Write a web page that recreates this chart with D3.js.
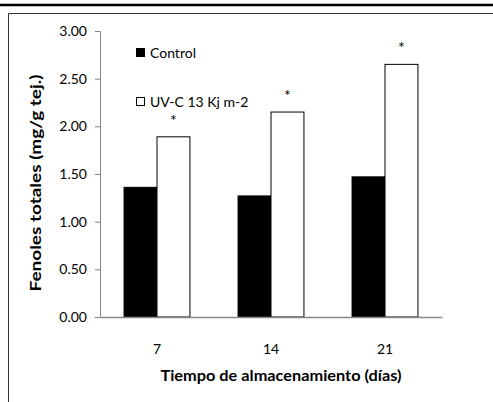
<!DOCTYPE html>
<meta charset="utf-8">
<script src="https://d3js.org/d3.v7.min.js"></script>
<style>
  body { margin: 0; background: #fff; }
  text { font-family: Lato, "Open Sans", sans-serif; fill: #000; }
</style>
<div id="my_dataviz"></div>
<script>

// data
var dias = ["7", "14", "21"];
var series = ["Control", "UV-C 13 Kj m-2"];
var control = [1.36, 1.27, 1.47];
var uvc = [1.89, 2.15, 2.65];
var significant = [true, true, true];   // the asterisks over UV-C bars
var yTicks = [0, 0.5, 1, 1.5, 2, 2.5, 3];

var W = 493, H = 402;
var margin = {top: 31, left: 100, bottom: 85, right: 51};

var svg = d3.select("#my_dataviz")
  .append("svg")
    .attr("width", W)
    .attr("height", H);

// thick rule on top and the frame of the figure
svg.append("line")
  .attr("x1", 0).attr("x2", W)
  .attr("y1", 5).attr("y2", 5)
  .attr("stroke", "#000")
  .attr("stroke-width", 2.5);

svg.append("path")
  .attr("d", "M8.5," + H + "V13.5H" + (W + 2))
  .attr("fill", "none")
  .attr("stroke", "#333")
  .attr("stroke-width", 1);

// scales
var x0 = d3.scaleBand()
  .domain(dias)
  .range([margin.left, W - margin.right])
  .padding(0);

var x1 = d3.scaleBand()
  .domain(series)
  .range([0, x0.bandwidth()])
  .paddingInner(0)
  .paddingOuter(0.73);

var y = d3.scaleLinear()
  .domain([0, 3])
  .range([H - margin.bottom, margin.top]);

var color = d3.scaleOrdinal()
  .domain(series)
  .range(["#000", "#fff"]);

// rows for the bars
var rows = dias.map(function(d, i) {
  return {dia: d, values: [
    {key: series[0], value: control[i]},
    {key: series[1], value: uvc[i]}
  ], sig: significant[i]};
});

// y axis
var yAxis = svg.append("g")
  .attr("transform", "translate(" + margin.left + ",0)")
  .call(d3.axisLeft(y).tickValues(yTicks).tickFormat(d3.format(".2f")).tickSize(5).tickPadding(8));
yAxis.select(".domain").attr("stroke", "#868686");
yAxis.selectAll(".tick line").attr("stroke", "#868686");
yAxis.selectAll("text")
  .style("font-family", "Lato, sans-serif")
  .style("font-size", "14px")
  .attr("fill", "#000");

// bars
var groups = svg.append("g").selectAll("g")
  .data(rows)
  .enter()
  .append("g")
    .attr("transform", function(d) { return "translate(" + x0(d.dia) + ",0)"; });

groups.selectAll("rect")
  .data(function(d) { return d.values; })
  .enter()
  .append("rect")
    .attr("x", function(d) { return x1(d.key); })
    .attr("y", function(d) { return y(d.value); })
    .attr("width", x1.bandwidth())
    .attr("height", function(d) { return y(0) - y(d.value); })
    .attr("fill", function(d) { return color(d.key); })
    .attr("stroke", "#000")
    .attr("stroke-width", 1);

// asterisks
groups.filter(function(d) { return d.sig; })
  .append("text")
    .attr("x", x1(series[1]) + x1.bandwidth() / 2)
    .attr("y", function(d) { return y(d.values[1].value) - 11; })
    .attr("text-anchor", "middle")
    .style("font-size", "16px")
    .text("*");

// x axis (line only, labels below)
var xAxis = svg.append("g")
  .attr("transform", "translate(0," + y(0) + ")")
  .call(d3.axisBottom(x0).tickSize(0).tickPadding(27));
xAxis.select(".domain").attr("stroke", "#868686").attr("stroke-width", 1.5);
xAxis.selectAll("text")
  .style("font-family", "Lato, sans-serif")
  .style("font-size", "14px")
  .attr("fill", "#000");

// axis titles
svg.append("text")
  .attr("x", 281)
  .attr("y", 381)
  .attr("text-anchor", "middle")
  .style("font-size", "15px")
  .style("font-weight", "bold")
  .attr("textLength", 241)
  .attr("lengthAdjust", "spacingAndGlyphs")
  .text("Tiempo de almacenamiento (días)");

svg.append("text")
  .attr("transform", "translate(41,183) rotate(-90)")
  .attr("text-anchor", "middle")
  .style("font-size", "15px")
  .style("font-weight", "bold")
  .attr("textLength", 217)
  .attr("lengthAdjust", "spacingAndGlyphs")
  .text("Fenoles totales (mg/g tej.)");

// legend
var legend = svg.append("g").selectAll("g")
  .data(series)
  .enter()
  .append("g")
    .attr("transform", function(d, i) { return "translate(136," + (48 + i * 49) + ")"; });

legend.append("rect")
  .attr("x", 0.5).attr("y", 0.5)
  .attr("width", 8).attr("height", 8)
  .attr("fill", function(d) { return color(d); })
  .attr("stroke", "#000");

legend.append("text")
  .attr("x", 14)
  .attr("y", 9.5)
  .style("font-size", "14px")
  .text(function(d) { return d; });

</script>
